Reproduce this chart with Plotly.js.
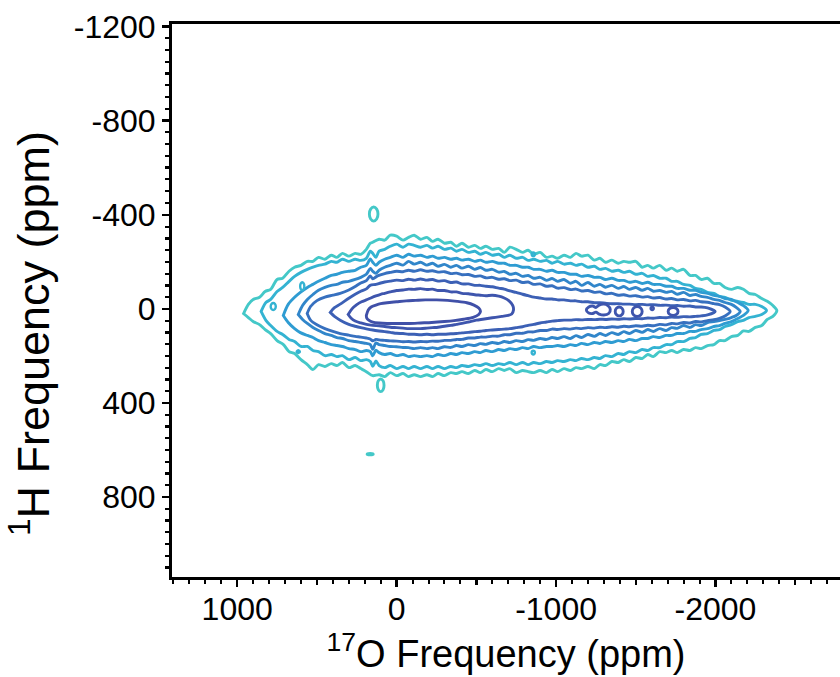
<!DOCTYPE html>
<html>
<head>
<meta charset="utf-8">
<script src="https://cdn.plot.ly/plotly-3.0.1.min.js"></script>
<style>html,body{margin:0;padding:0;background:#fff;overflow:hidden}#chart{width:840px;height:677px}</style>
</head>
<body>
<div id="chart"></div>
<script>
// ---- contour lines of the 1H-17O 2D spectrum (x: 17O ppm, y: 1H ppm), outermost L1 -> innermost L8 ----
const L1x = [960,930,900,860,825,790,750,715,675,640,600,560,525,490,450,410,375,340,300,260,225,190,165,150,110,75,40,0,-40,-75,-110,-150,-190,-225,-260,-300,-340,-375,-410,-450,-490,-525,-560,-600,-640,-675,-710,-750,-790,-825,-860,-900,-940,-975,-1010,-1050,-1090,-1125,-1160,-1200,-1240,-1275,-1310,-1350,-1390,-1425,-1460,-1500,-1540,-1575,-1610,-1650,-1690,-1725,-1760,-1800,-1840,-1875,-1910,-1950,-1990,-2025,-2060,-2100,-2140,-2175,-2210,-2250,-2290,-2325,-2360,-2385,
  -2360,-2325,-2290,-2250,-2210,-2175,-2140,-2100,-2060,-2025,-1990,-1950,-1910,-1875,-1840,-1800,-1760,-1725,-1690,-1650,-1610,-1575,-1540,-1500,-1460,-1425,-1390,-1350,-1310,-1275,-1240,-1200,-1160,-1125,-1090,-1050,-1010,-975,-940,-900,-860,-825,-790,-750,-710,-675,-640,-600,-560,-525,-490,-450,-410,-375,-340,-300,-260,-225,-190,-150,-110,-75,-40,0,40,75,110,150,190,225,260,300,340,375,410,450,490,525,560,600,640,675,710,750,790,825,860,900,930,960];
const L1y = [20,-19,-40,-49,-74,-83,-125,-130,-160,-177,-185,-202,-202,-219,-211,-228,-219,-236,-224,-236,-232,-253,-279,-283,-296,-292,-313,-309,-292,-304,-313,-296,-304,-287,-296,-279,-283,-266,-279,-262,-270,-257,-266,-253,-257,-240,-262,-253,-240,-249,-232,-240,-219,-224,-215,-228,-219,-236,-224,-228,-207,-215,-198,-207,-194,-202,-198,-202,-177,-185,-173,-185,-164,-173,-160,-168,-142,-142,-125,-130,-108,-108,-91,-83,-91,-83,-66,-61,-44,-32,-14,7,
  32,45,71,79,96,94,113,118,135,135,152,156,169,165,177,173,186,177,186,182,203,194,211,207,224,216,228,224,241,237,254,245,254,250,262,254,267,258,271,262,271,267,262,271,254,262,254,267,258,271,262,275,267,275,271,284,275,288,280,288,280,288,275,284,271,288,280,284,267,254,241,250,228,241,233,245,237,258,237,216,190,182,152,135,105,88,67,54,37,20];

const L2x = [850,820,790,750,715,675,640,600,560,525,490,450,410,375,340,300,260,225,190,165,150,130,110,75,40,0,-40,-75,-110,-150,-190,-225,-260,-300,-340,-375,-410,-450,-490,-525,-560,-600,-640,-675,-710,-750,-790,-825,-860,-900,-940,-975,-1010,-1050,-1090,-1125,-1160,-1200,-1240,-1275,-1310,-1350,-1390,-1425,-1460,-1500,-1540,-1575,-1610,-1650,-1690,-1725,-1760,-1800,-1840,-1875,-1910,-1950,-1990,-2025,-2060,-2100,-2140,-2175,-2210,-2250,-2290,-2320,
  -2290,-2250,-2210,-2175,-2140,-2100,-2060,-2025,-1990,-1950,-1910,-1875,-1840,-1800,-1760,-1725,-1690,-1650,-1610,-1575,-1540,-1500,-1460,-1425,-1390,-1350,-1310,-1275,-1240,-1200,-1160,-1125,-1090,-1050,-1010,-975,-940,-900,-860,-825,-790,-750,-710,-675,-640,-600,-560,-525,-490,-450,-410,-375,-340,-300,-260,-225,-190,-150,-110,-75,-40,0,40,75,110,130,150,165,190,225,260,300,340,375,410,450,490,525,560,600,640,675,715,750,790,820,850];
const L2y = [11,-27,-40,-74,-91,-117,-138,-155,-168,-177,-185,-190,-202,-198,-211,-202,-211,-206,-215,-245,-236,-219,-245,-253,-266,-275,-262,-275,-270,-262,-270,-258,-266,-253,-258,-245,-253,-240,-245,-232,-240,-228,-232,-219,-228,-215,-219,-206,-211,-202,-206,-194,-202,-190,-194,-185,-190,-177,-181,-168,-172,-160,-164,-155,-160,-147,-151,-138,-142,-130,-130,-117,-117,-104,-100,-87,-83,-70,-66,-53,-49,-36,-32,-27,-19,-19,-10,7,
  24,32,37,49,54,67,75,88,92,105,109,122,126,139,139,152,152,165,165,177,173,186,182,194,190,203,199,211,207,216,211,220,216,224,220,228,224,233,228,237,228,237,228,237,233,241,233,241,237,245,241,250,245,254,245,254,245,254,245,254,245,254,241,250,241,222,244,224,216,220,207,216,199,203,194,199,182,177,160,160,139,130,109,96,71,49,11];

const L3x = [711,680,640,604,560,525,490,450,410,375,340,300,260,225,190,165,150,130,110,75,40,0,-40,-75,-110,-150,-190,-225,-260,-300,-340,-375,-410,-450,-490,-525,-560,-600,-640,-675,-710,-750,-790,-825,-860,-900,-940,-975,-1010,-1050,-1090,-1125,-1160,-1200,-1240,-1275,-1310,-1350,-1390,-1425,-1460,-1500,-1540,-1575,-1610,-1650,-1690,-1725,-1760,-1800,-1840,-1875,-1910,-1950,-1990,-2025,-2060,-2100,-2140,-2175,-2205,
  -2175,-2140,-2100,-2060,-2025,-1990,-1950,-1910,-1875,-1840,-1800,-1760,-1725,-1690,-1650,-1610,-1575,-1540,-1500,-1460,-1425,-1390,-1350,-1310,-1275,-1240,-1200,-1160,-1125,-1090,-1050,-1010,-975,-940,-900,-860,-825,-790,-750,-710,-675,-640,-600,-560,-525,-490,-450,-410,-375,-340,-300,-260,-225,-190,-150,-110,-75,-40,0,40,75,110,130,150,165,190,225,260,300,340,375,410,450,490,525,560,604,640,680,711];
const L3y = [28,-19,-49,-70,-91,-104,-117,-130,-142,-147,-155,-160,-164,-177,-185,-212,-198,-185,-198,-211,-219,-228,-219,-232,-224,-228,-219,-224,-215,-219,-211,-215,-207,-211,-202,-207,-198,-202,-194,-194,-185,-185,-177,-177,-168,-168,-160,-164,-155,-155,-147,-147,-138,-142,-134,-134,-125,-130,-121,-121,-113,-117,-108,-113,-104,-104,-96,-96,-87,-87,-79,-79,-70,-66,-57,-53,-44,-40,-27,-14,7,
  28,41,54,62,71,75,84,88,96,96,105,105,113,113,122,118,126,126,135,130,139,135,143,139,147,143,152,147,156,152,160,156,160,160,165,160,169,165,173,169,177,173,182,177,186,182,190,186,194,190,199,194,203,199,203,199,203,194,199,190,194,186,176,200,182,177,182,173,169,160,156,152,143,135,122,113,101,84,58,28];

const L4x = [617,590,560,525,490,450,410,375,340,300,260,225,190,165,150,130,110,75,40,0,-40,-75,-110,-150,-190,-225,-260,-300,-340,-375,-410,-450,-490,-525,-560,-600,-640,-675,-710,-750,-790,-825,-860,-900,-940,-975,-1010,-1050,-1090,-1125,-1160,-1200,-1240,-1275,-1310,-1350,-1390,-1425,-1460,-1500,-1540,-1575,-1610,-1650,-1690,-1725,-1760,-1800,-1840,-1875,-1910,-1950,-1990,-2025,-2060,-2100,-2130,-2155,
  -2130,-2100,-2060,-2025,-1990,-1950,-1910,-1875,-1840,-1800,-1760,-1725,-1690,-1650,-1610,-1575,-1540,-1500,-1460,-1425,-1390,-1350,-1310,-1275,-1240,-1200,-1160,-1125,-1090,-1050,-1010,-975,-940,-900,-860,-825,-790,-750,-710,-675,-640,-600,-560,-525,-490,-450,-410,-375,-340,-300,-260,-225,-190,-150,-110,-75,-40,0,40,75,110,130,150,165,190,225,260,300,340,375,410,450,490,525,560,590,617];
const L4y = [24,-14,-40,-61,-79,-91,-100,-104,-113,-117,-125,-134,-147,-172,-160,-151,-164,-177,-185,-194,-186,-202,-190,-198,-186,-194,-181,-189,-177,-185,-173,-181,-168,-176,-164,-168,-156,-159,-147,-151,-138,-142,-130,-134,-121,-129,-117,-125,-109,-117,-100,-112,-96,-104,-92,-100,-87,-95,-83,-91,-79,-87,-75,-78,-70,-74,-62,-70,-57,-61,-53,-49,-40,-36,-27,-19,-6,11,
  28,37,45,50,54,58,71,67,79,71,83,80,92,84,96,88,100,92,105,97,109,101,113,105,117,109,122,114,126,118,126,122,130,126,134,131,139,135,143,139,147,143,151,148,156,152,160,156,164,161,169,165,169,165,169,165,164,161,160,156,152,145,172,152,147,143,139,135,126,122,113,105,92,79,62,45,24];

const L5x = [561,540,500,450,400,354,300,260,225,190,166,150,120,75,40,0,-40,-75,-110,-150,-190,-225,-260,-300,-340,-375,-410,-450,-490,-525,-560,-600,-640,-675,-710,-750,-790,-825,-860,-900,-940,-975,-1010,-1050,-1090,-1125,-1160,-1200,-1240,-1275,-1310,-1350,-1390,-1425,-1460,-1500,-1540,-1575,-1610,-1650,-1690,-1725,-1760,-1800,-1840,-1875,-1910,-1950,-1990,-2025,-2060,-2092,
  -2060,-2025,-1990,-1950,-1910,-1875,-1840,-1800,-1760,-1725,-1690,-1650,-1610,-1575,-1540,-1500,-1460,-1425,-1390,-1350,-1310,-1275,-1240,-1200,-1160,-1125,-1090,-1050,-1010,-975,-940,-900,-860,-825,-790,-750,-710,-675,-640,-600,-560,-525,-490,-450,-410,-375,-340,-300,-260,-225,-190,-150,-110,-75,-40,0,40,75,110,130,150,166,190,225,260,300,354,400,450,500,540,561];
const L5y = [20,-10,-35,-50,-58,-66,-80,-95,-110,-120,-140,-128,-140,-150,-155,-160,-158,-164,-160,-166,-160,-162,-156,-158,-150,-152,-145,-146,-138,-140,-132,-134,-126,-128,-120,-122,-112,-114,-104,-106,-96,-98,-88,-90,-82,-84,-76,-78,-70,-72,-64,-66,-58,-60,-54,-56,-50,-52,-46,-48,-42,-44,-38,-40,-34,-36,-30,-28,-22,-18,-8,11,
  30,40,46,50,56,54,60,58,64,62,68,66,72,70,74,72,76,74,78,76,80,78,82,80,84,82,86,84,88,86,92,92,98,98,104,104,110,110,116,116,120,120,124,124,130,130,134,134,138,137,140,139,141,139,140,137,136,134,132,130,136,128,124,120,117,112,105,96,84,68,48,20];

const L6x = [416,390,354,300,260,225,190,166,130,100,75,40,0,-40,-75,-110,-150,-190,-225,-260,-300,-340,-375,-410,-450,-490,-525,-560,-600,-640,-675,-710,-750,-790,-825,-860,-900,-940,-975,-1010,-1050,-1090,-1125,-1160,-1200,-1240,-1275,-1310,-1350,-1390,-1425,-1460,-1500,-1540,-1575,-1610,-1650,-1690,-1725,-1760,-1800,-1840,-1875,-1910,-1950,-1998,
  -1950,-1910,-1875,-1840,-1800,-1760,-1725,-1690,-1650,-1610,-1575,-1540,-1500,-1460,-1425,-1390,-1350,-1310,-1275,-1240,-1200,-1160,-1125,-1090,-1050,-1010,-975,-940,-900,-860,-825,-790,-750,-710,-675,-640,-600,-560,-525,-490,-450,-410,-375,-340,-300,-260,-225,-190,-150,-110,-75,-40,0,40,75,110,150,190,225,260,300,354,390,416];
const L6y = [15,-5,-20,-45,-62,-75,-85,-100,-104,-110,-114,-118,-122,-120,-126,-122,-127,-122,-125,-118,-120,-112,-114,-106,-106,-100,-100,-96,-94,-88,-84,-76,-70,-62,-56,-50,-46,-42,-42,-38,-38,-34,-34,-30,-30,-26,-26,-24,-22,-22,-20,-20,-18,-19,-17,-18,-15,-16,-13,-14,-11,-12,-8,-8,-4,11,
  26,30,32,34,33,36,35,38,37,40,39,42,41,43,42,44,43,45,44,46,45,47,46,48,48,50,52,56,60,66,70,76,80,84,86,88,90,92,95,97,100,102,105,106,108,108,110,108,110,108,108,105,104,100,97,94,90,85,80,74,66,48,32,15];

const L7x = [304,280,250,220,190,166,130,100,75,40,0,-40,-75,-110,-150,-190,-225,-260,-300,-340,-375,-410,-450,-490,-525,-560,-600,-640,-675,-705,-728,-733,-722,-700,-660,-620,-580,-540,-500,-450,-410,-375,-340,-300,-260,-225,-190,-150,-110,-75,-40,0,40,75,110,150,190,225,260,285,304];
const L7y = [24,0,-18,-30,-38,-45,-55,-62,-66,-72,-78,-80,-84,-83,-86,-82,-84,-78,-78,-72,-72,-66,-64,-60,-58,-56,-58,-54,-46,-34,-15,5,22,28,32,36,40,44,48,56,62,66,70,74,78,80,82,84,84,84,82,80,78,75,72,70,66,60,52,40,24];

const L8x = [190,178,160,130,100,60,0,-60,-120,-180,-250,-320,-380,-440,-485,-515,-526,-515,-480,-420,-360,-300,-220,-150,-80,0,60,110,150,175,188,190];
const L8y = [28,5,-8,-16,-22,-26,-30,-34,-36,-38,-38,-36,-32,-26,-16,-4,10,24,36,44,50,54,58,60,62,62,62,60,56,48,38,28];

// small closed islands at the L7 level inside the long tongue
const islandL7x = [
  [-1190,-1205,-1230,-1250,-1270,-1300,-1325,-1340,-1330,-1300,-1270,-1250,-1230,-1205,-1190],
  [-1371,-1378,-1396,-1414,-1421,-1414,-1396,-1378,-1371],
  [-1478,-1487,-1509,-1531,-1540,-1531,-1509,-1487,-1478],
  [-1595,-1597,-1603,-1609,-1611,-1609,-1603,-1597,-1595],
  [-1703,-1712,-1734,-1756,-1765,-1756,-1734,-1712,-1703]];
const islandL7y = [
  [5,-8,-12,-6,-16,-20,-14,2,20,26,22,14,20,18,5],
  [11,24,30,24,11,-2,-8,-2,11],
  [11,26,32,26,11,-4,-10,-4,11],
  [-2,2,4,2,-2,-6,-8,-6,-2],
  [11,23,28,23,11,-1,-6,-1,11]];

// isolated outer-level islands (above, below and far below the main peak)
const islandL1x = [
  [171,163,144,125,117,125,144,163,171],
  [121,115,100,85,79,85,100,115,121],
  [185,166,147,166,185]];
const islandL1y = [
  [-403,-382,-373,-382,-403,-424,-433,-424,-403],
  [325,344,352,344,325,306,298,306,325],
  [618,621,618,615,618]];

// small islands at the L2 level near the edges of the envelope
const islandL2x = [
  [605,601,592,583,579,583,592,601,605],
  [790,785,774,763,758,763,774,785,790],
  [-847,-850,-857,-864,-867,-864,-857,-850,-847],
  [-847,-850,-857,-864,-867,-864,-857,-850,-847],
  [627,622,617,612,607,612,617,622,627]];
const islandL2y = [
  [-96,-84,-79,-84,-96,-108,-113,-108,-96],
  [-10,1,5,1,-10,-21,-25,-21,-10],
  [-232,-226,-224,-226,-232,-238,-240,-238,-232],
  [186,192,194,192,186,180,178,180,186],
  [182,186,188,186,182,178,176,178,182]];

const levelColors = ['#44c8c8','#34b3d2','#2f9cd2','#3186ca','#3770bf','#3c60b5','#3e55ad','#4050a8'];

// axis ticks: labelled ticks, extra long unlabelled ticks
const xLabelVals = [1000,0,-1000,-2000];
const xLabelText = ['1000','0','-1000','-2000'];
const xLongVals = [500,-500,-1500,-2500];
const yLabelVals = [-1200,-800,-400,0,400,800];
const yLabelText = ['-1200','-800','-400','0','400','800'];
const yLongVals = [-1100,-1000,-900,-700,-600,-500,-300,-200,-100,100,200,300,500,600,700,900,1000,1100];

function closed(a){ return a.concat([a[0]]); }
function joinIslands(xs, ys){
  const X = [], Y = [];
  xs.forEach((arr, i) => { X.push(...arr, null); Y.push(...ys[i], null); });
  return {X, Y};
}

const levels = [[L1x,L1y],[L2x,L2y],[L3x,L3y],[L4x,L4y],[L5x,L5y],[L6x,L6y],[L7x,L7y],[L8x,L8y]];
const LW = 2.9;
const traces = levels.map((lv, i) => ({
  type: 'scatter', mode: 'lines',
  x: closed(lv[0]), y: closed(lv[1]),
  line: {color: levelColors[i], width: LW, shape: 'spline', smoothing: 0.8},
  hoverinfo: 'skip', showlegend: false
}));
const i7 = joinIslands(islandL7x, islandL7y);
traces.push({type:'scatter', mode:'lines', x:i7.X, y:i7.Y, connectgaps:false,
  line:{color: levelColors[6], width: LW, shape:'spline', smoothing:1}, hoverinfo:'skip', showlegend:false});
const i1 = joinIslands(islandL1x, islandL1y);
traces.push({type:'scatter', mode:'lines', x:i1.X, y:i1.Y, connectgaps:false,
  line:{color: levelColors[0], width: LW, shape:'spline', smoothing:1}, hoverinfo:'skip', showlegend:false});
const i2 = joinIslands(islandL2x, islandL2y);
traces.push({type:'scatter', mode:'lines', x:i2.X, y:i2.Y, connectgaps:false,
  line:{color: levelColors[1], width: 2.4, shape:'spline', smoothing:1}, hoverinfo:'skip', showlegend:false});
// invisible carrier for the overlay axes that draw the long unlabelled ticks
traces.push({type:'scatter', mode:'lines', x:[0], y:[0], xaxis:'x2', yaxis:'y2', line:{width:0}, hoverinfo:'skip', showlegend:false, opacity:0});

const FONT = 'Liberation Sans, Arial, Helvetica, sans-serif';
const XR = [1409, -2781], YR = [1140, -1211];
const layout = {
  width: 840, height: 677,
  margin: {l: 172, r: 0, t: 24, b: 100, pad: 0},
  paper_bgcolor: '#ffffff', plot_bgcolor: '#ffffff',
  showlegend: false,
  font: {family: FONT, color: '#000000'},
  xaxis: {
    range: XR, autorange: false,
    showline: true, linecolor: '#000', linewidth: 3, mirror: true,
    showgrid: false, zeroline: false,
    ticks: 'outside', ticklen: 7, tickwidth: 2.5, tickcolor: '#000',
    tickmode: 'array', tickvals: xLabelVals, ticktext: xLabelText,
    ticklabelstandoff: -5,
    tickfont: {family: FONT, size: 32, color: '#000'},
    minor: {tickmode: 'linear', tick0: 0, dtick: 100, ticks: 'outside', ticklen: 4, tickwidth: 2, tickcolor: '#000', showgrid: false},
    title: {text: '<sup>17</sup>O Frequency (ppm)', font: {family: FONT, size: 38, color: '#000'}, standoff: 12},
    automargin: false
  },
  yaxis: {
    range: YR, autorange: false,
    showline: true, linecolor: '#000', linewidth: 3, mirror: false,
    showgrid: false, zeroline: false,
    ticks: 'outside', ticklen: 7, tickwidth: 2.5, tickcolor: '#000',
    tickmode: 'array', tickvals: yLabelVals, ticktext: yLabelText,
    tickfont: {family: FONT, size: 32, color: '#000'},
    minor: {tickmode: 'linear', tick0: 0, dtick: 50, ticks: 'outside', ticklen: 4, tickwidth: 2, tickcolor: '#000', showgrid: false},
    automargin: false
  },
  xaxis2: {
    overlaying: 'x', anchor: 'y', side: 'bottom', range: XR, autorange: false,
    showline: false, showgrid: false, zeroline: false, showticklabels: false,
    ticks: 'outside', ticklen: 7, tickwidth: 2.5, tickcolor: '#000',
    tickmode: 'array', tickvals: xLongVals
  },
  yaxis2: {
    overlaying: 'y', anchor: 'x', side: 'left', range: YR, autorange: false,
    showline: false, showgrid: false, zeroline: false, showticklabels: false,
    ticks: 'outside', ticklen: 6, tickwidth: 2.5, tickcolor: '#000',
    tickmode: 'array', tickvals: yLongVals
  },
  annotations: [{
    text: '<sup>1</sup>H Frequency (ppm)', textangle: -90,
    xref: 'paper', yref: 'paper', x: -0.2126, y: 0.441,
    xanchor: 'center', yanchor: 'middle', showarrow: false,
    font: {family: FONT, size: 45, color: '#000'}
  }]
};
Plotly.newPlot('chart', traces, layout, {staticPlot: true, displayModeBar: false});
</script>
</body>
</html>
